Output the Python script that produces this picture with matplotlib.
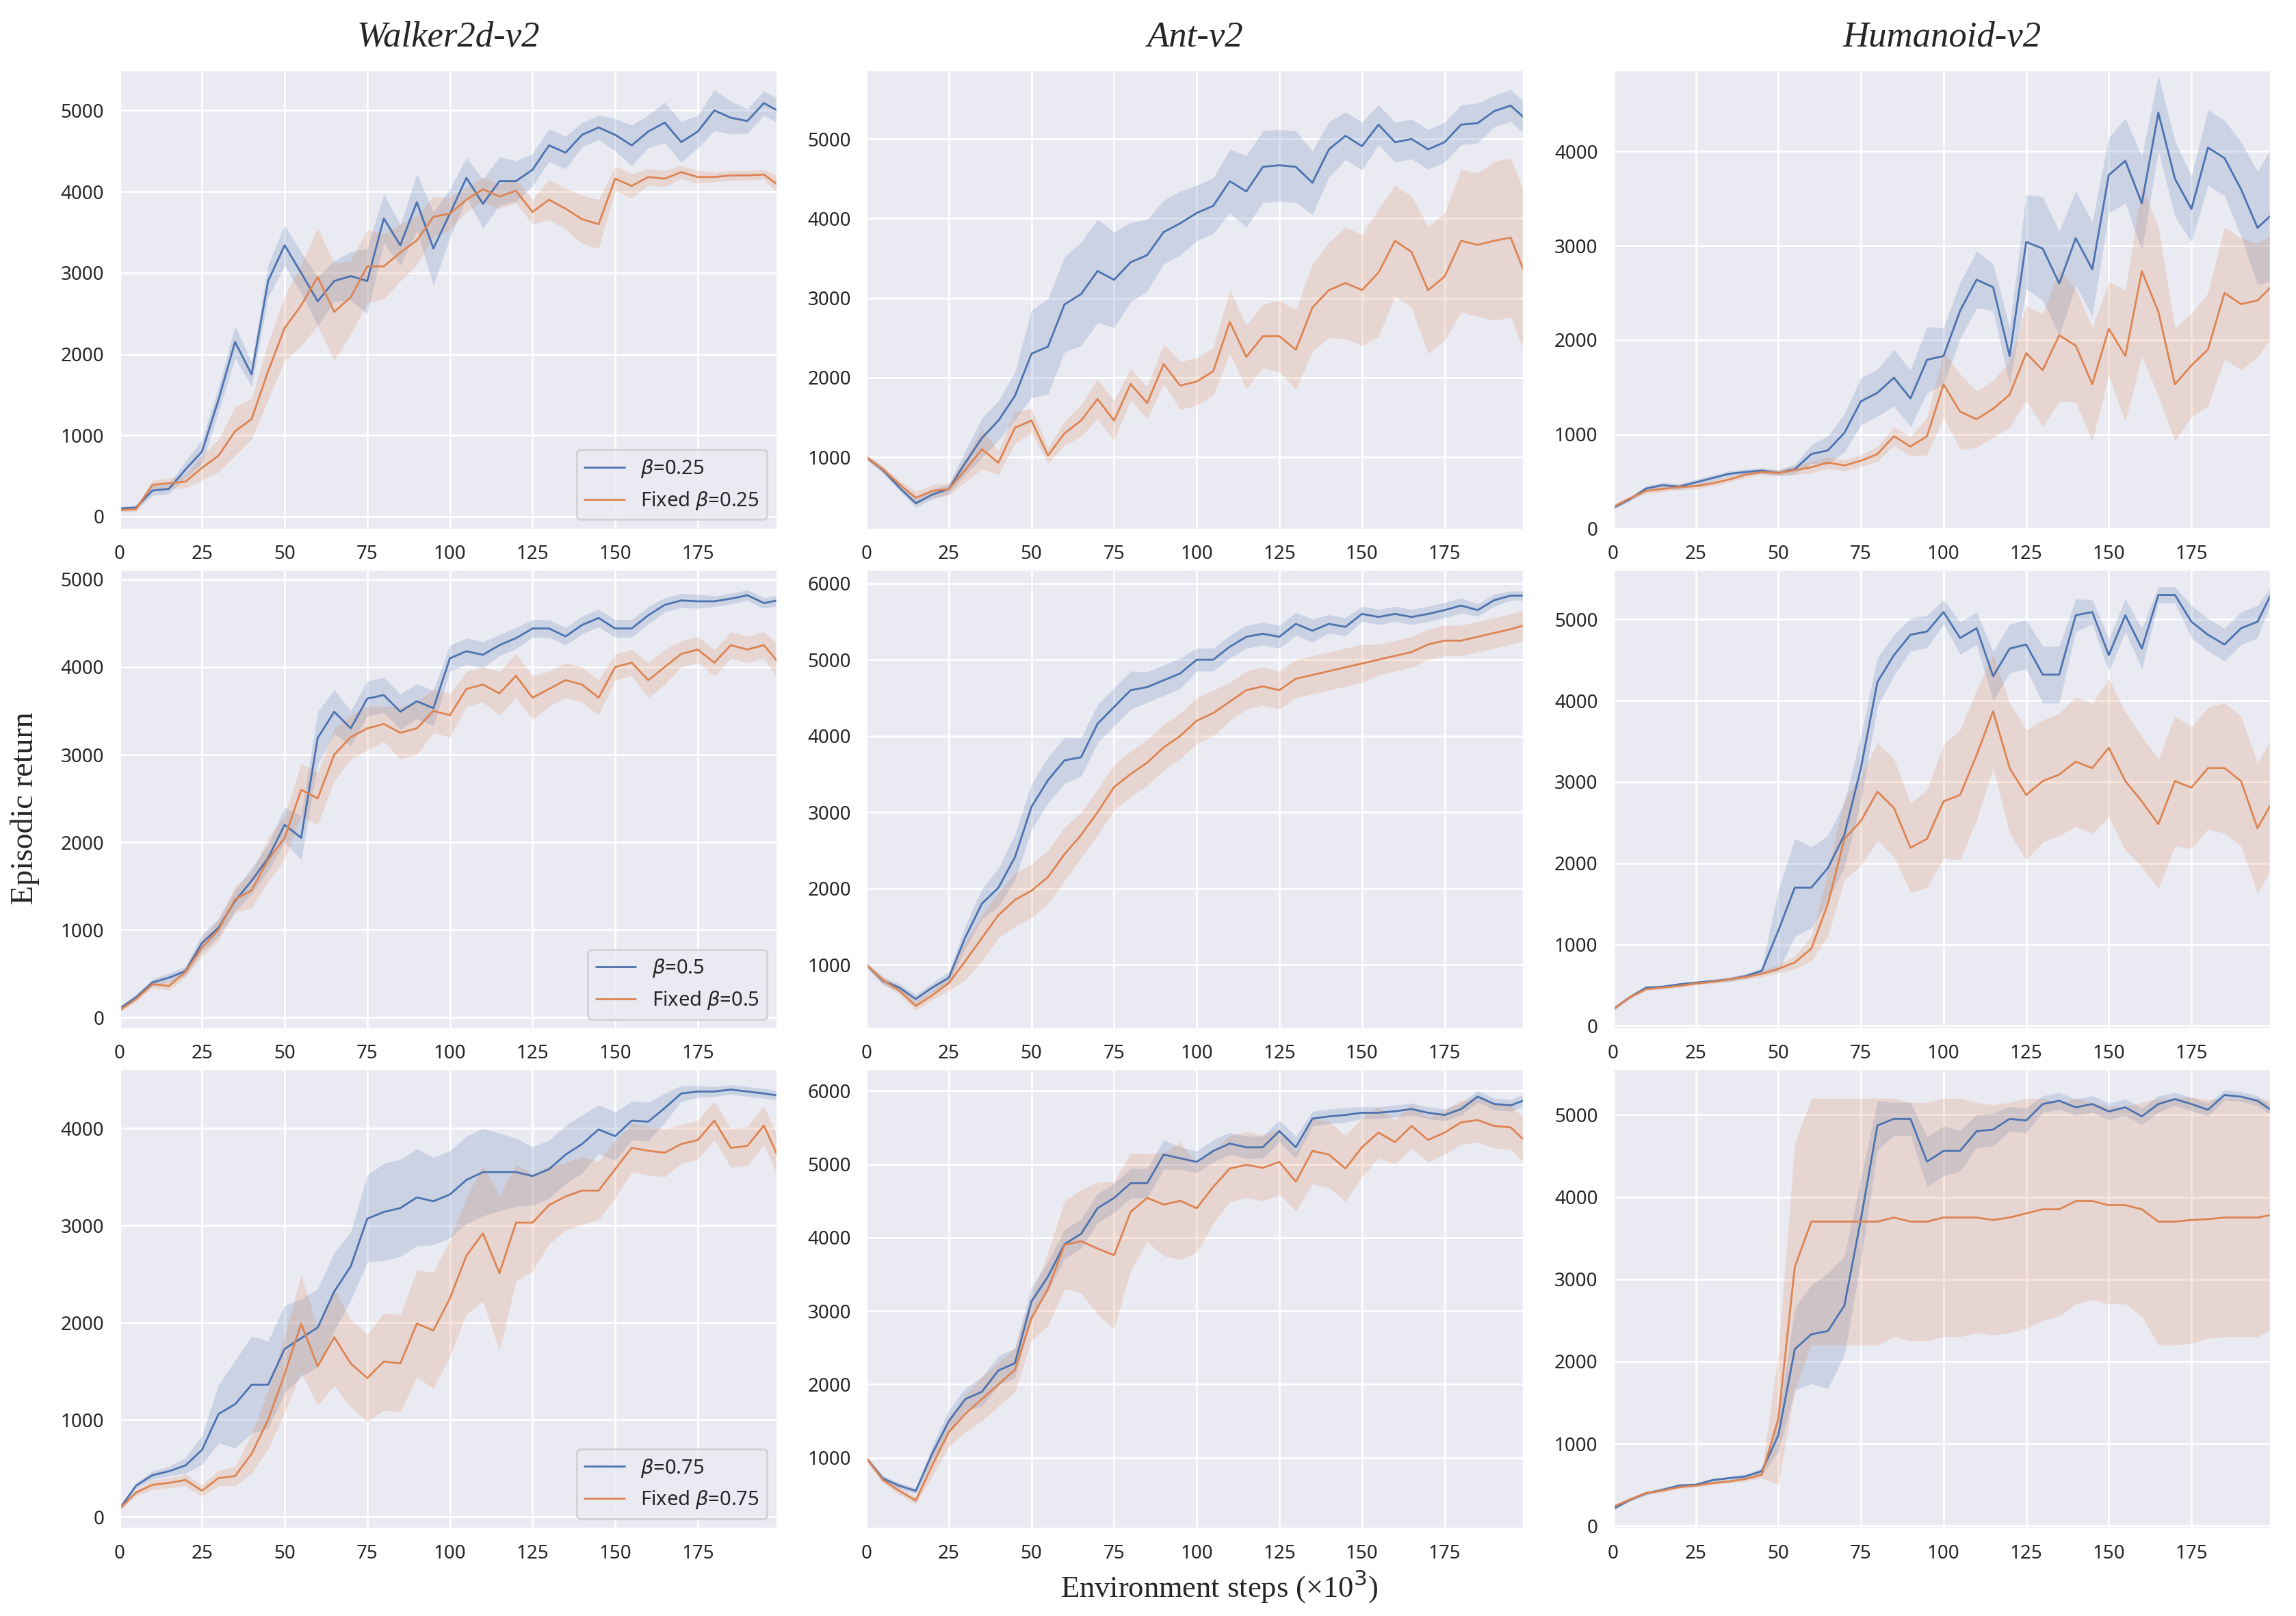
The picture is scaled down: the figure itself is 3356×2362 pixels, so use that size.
import numpy as np
import matplotlib
matplotlib.use("Agg")
import matplotlib.pyplot as plt
import seaborn as sns

sns.set_theme(style="darkgrid")
plt.rcParams['font.family'] = ['Noto Sans', 'DejaVu Sans']

### environment steps (x10^3)
steps = [0, 5, 10, 15, 20, 25, 30, 35, 40, 45, 50, 55, 60, 65, 70, 75, 80, 85, 90, 95,
         100, 105, 110, 115, 120, 125, 130, 135, 140, 145, 150, 155, 160, 165, 170, 175,
         180, 185, 190, 195, 199]

envs = ["Walker2d-v2", "Ant-v2", "Humanoid-v2"]
betas = ["0.25", "0.5", "0.75"]

### --- beta = 0.25 ---
walker_b25 = [100, 110, 320, 340, 580, 800, 1440, 2150, 1750, 2900, 3340, 3000, 2650, 2900, 2960, 2900, 3670, 3340, 3870, 3300,
              3730, 4170, 3850, 4130, 4130, 4270, 4570, 4480, 4700, 4790, 4700, 4570, 4740, 4850, 4610, 4740, 5000, 4910, 4870, 5090, 5000]
walker_b25_sd = [20, 30, 60, 60, 100, 150, 150, 200, 150, 200, 250, 250, 300, 250, 300, 400, 300, 250, 350, 450,
                 300, 250, 300, 300, 250, 200, 200, 200, 150, 150, 200, 250, 200, 250, 250, 200, 250, 200, 150, 150, 150]
walker_f25 = [80, 90, 390, 410, 430, 600, 750, 1050, 1200, 1790, 2320, 2600, 2950, 2520, 2700, 3080, 3080, 3250, 3400, 3690,
              3730, 3900, 4030, 3940, 4010, 3750, 3900, 3790, 3660, 3600, 4160, 4070, 4180, 4160, 4240, 4180, 4180, 4200, 4200, 4210, 4090]
walker_f25_sd = [20, 30, 60, 60, 80, 150, 200, 300, 250, 350, 400, 500, 600, 600, 450, 450, 400, 350, 300, 250,
                 200, 150, 150, 150, 150, 150, 250, 250, 300, 300, 150, 150, 100, 100, 80, 80, 60, 60, 60, 60, 100]

ant_b25 = [1000, 840, 620, 420, 530, 600, 930, 1240, 1460, 1770, 2300, 2390, 2920, 3050, 3340, 3230, 3450, 3540, 3830, 3940,
           4070, 4160, 4470, 4340, 4650, 4670, 4650, 4450, 4870, 5040, 4910, 5180, 4960, 5000, 4870, 4960, 5180, 5200, 5350, 5420, 5270]
ant_b25_sd = [30, 40, 40, 50, 60, 60, 150, 250, 250, 300, 550, 600, 600, 650, 650, 600, 500, 450, 400, 400,
              350, 350, 400, 450, 450, 450, 450, 400, 350, 300, 300, 250, 250, 250, 250, 250, 250, 250, 200, 200, 200]
ant_f25 = [1000, 850, 660, 490, 575, 600, 840, 1100, 930, 1370, 1460, 1020, 1300, 1460, 1730, 1460, 1920, 1680, 2170, 1900,
           1950, 2080, 2700, 2260, 2520, 2520, 2350, 2880, 3100, 3190, 3100, 3320, 3720, 3580, 3100, 3270, 3720, 3670, 3720, 3760, 3340]
ant_f25_sd = [30, 40, 50, 80, 80, 80, 150, 250, 150, 200, 150, 100, 150, 200, 250, 250, 200, 200, 250, 300,
              300, 300, 400, 400, 400, 450, 500, 550, 600, 700, 700, 800, 700, 700, 800, 800, 900, 900, 1000, 1000, 1000]

hum_b25 = [220, 310, 425, 460, 445, 490, 535, 580, 600, 615, 590, 630, 790, 830, 1015, 1350, 1440, 1600, 1380, 1790,
           1830, 2310, 2640, 2560, 1830, 3040, 2970, 2600, 3080, 2750, 3750, 3900, 3450, 4410, 3710, 3390, 4040, 3930, 3600, 3190, 3320]
hum_b25_sd = [20, 20, 30, 30, 30, 30, 30, 30, 30, 30, 30, 50, 100, 150, 200, 250, 250, 300, 300, 350,
              300, 300, 300, 250, 300, 500, 550, 550, 500, 500, 400, 450, 500, 400, 400, 350, 400, 400, 500, 600, 700]
hum_f25 = [230, 320, 400, 420, 440, 450, 480, 520, 570, 600, 590, 620, 650, 700, 670, 720, 790, 980, 870, 980,
           1530, 1240, 1160, 1270, 1420, 1860, 1680, 2050, 1940, 1530, 2120, 1830, 2730, 2300, 1530, 1730, 1900, 2500, 2380, 2420, 2560]
hum_f25_sd = [20, 20, 30, 30, 30, 30, 30, 30, 30, 30, 30, 50, 60, 60, 60, 60, 80, 100, 100, 200,
              350, 400, 300, 300, 350, 500, 600, 700, 600, 600, 500, 700, 900, 900, 600, 550, 600, 700, 700, 600, 550]

### --- beta = 0.5 ---
walker_b5 = [100, 230, 400, 455, 530, 850, 1025, 1330, 1560, 1820, 2200, 2050, 3190, 3490, 3300, 3640, 3680, 3490, 3610, 3530,
             4100, 4180, 4140, 4250, 4330, 4440, 4440, 4350, 4480, 4560, 4440, 4440, 4590, 4710, 4760, 4750, 4750, 4780, 4820, 4730, 4760]
walker_b5_sd = [20, 30, 40, 50, 50, 100, 100, 120, 150, 150, 200, 250, 300, 250, 200, 200, 200, 200, 200, 200,
                150, 150, 150, 120, 120, 100, 100, 100, 100, 100, 100, 100, 100, 80, 80, 80, 60, 60, 60, 60, 60]
walker_f5 = [80, 210, 380, 360, 520, 800, 1000, 1350, 1450, 1800, 2050, 2600, 2500, 3000, 3200, 3300, 3350, 3250, 3300, 3500,
             3450, 3750, 3800, 3700, 3900, 3650, 3750, 3850, 3800, 3650, 4000, 4050, 3850, 4000, 4150, 4200, 4050, 4250, 4200, 4250, 4070]
walker_f5_sd = [20, 30, 40, 50, 60, 100, 120, 150, 200, 250, 250, 300, 300, 300, 250, 250, 200, 300, 300, 250,
                250, 200, 200, 250, 250, 250, 200, 200, 200, 200, 150, 150, 200, 200, 150, 150, 150, 150, 150, 150, 200]

ant_b5 = [1000, 790, 700, 550, 700, 830, 1360, 1800, 2010, 2410, 3070, 3420, 3680, 3720, 4160, 4380, 4600, 4640, 4730, 4820,
          5000, 5000, 5170, 5300, 5340, 5300, 5470, 5380, 5470, 5430, 5600, 5560, 5600, 5560, 5600, 5650, 5710, 5650, 5780, 5840, 5840]
ant_b5_sd = [30, 50, 50, 60, 60, 80, 150, 200, 250, 300, 300, 300, 300, 250, 250, 250, 250, 200, 200, 200,
             150, 150, 150, 150, 150, 150, 150, 150, 120, 120, 100, 100, 100, 100, 100, 100, 100, 80, 80, 60, 60]
ant_f5 = [1000, 800, 660, 460, 600, 760, 1050, 1350, 1650, 1850, 1970, 2150, 2450, 2700, 3000, 3330, 3500, 3650, 3850, 4000,
          4200, 4300, 4450, 4600, 4650, 4600, 4750, 4800, 4850, 4900, 4950, 5000, 5050, 5100, 5200, 5250, 5250, 5300, 5350, 5400, 5450]
ant_f5_sd = [30, 50, 50, 60, 60, 100, 250, 300, 300, 350, 350, 350, 350, 300, 300, 300, 300, 300, 300, 300,
             300, 300, 250, 250, 250, 250, 250, 250, 250, 250, 250, 200, 200, 200, 200, 200, 200, 200, 200, 200, 200]

hum_b5 = [205, 350, 470, 480, 510, 530, 550, 570, 610, 675, 1170, 1700, 1700, 1940, 2350, 3170, 4230, 4560, 4810, 4850,
          5090, 4770, 4890, 4300, 4640, 4690, 4320, 4320, 5050, 5090, 4560, 5050, 4640, 5300, 5300, 4970, 4810, 4690, 4890, 4970, 5300]
hum_b5_sd = [20, 20, 20, 20, 20, 20, 20, 30, 30, 40, 500, 600, 500, 400, 400, 400, 300, 250, 200, 200,
             150, 200, 200, 300, 300, 300, 350, 350, 200, 150, 200, 200, 250, 100, 100, 200, 200, 200, 200, 200, 100]
hum_f5 = [200, 350, 450, 470, 490, 520, 540, 570, 600, 640, 700, 780, 950, 1500, 2300, 2520, 2880, 2680, 2190, 2300,
          2760, 2840, 3330, 3870, 3170, 2840, 3010, 3090, 3250, 3170, 3420, 3010, 2760, 2480, 3010, 2930, 3170, 3170, 3010, 2430, 2720]
hum_f5_sd = [20, 20, 20, 20, 20, 20, 20, 20, 30, 40, 50, 80, 150, 400, 500, 550, 600, 600, 550, 600,
             700, 800, 800, 700, 800, 800, 750, 750, 800, 800, 850, 850, 800, 800, 800, 750, 750, 800, 800, 800, 800]

### --- beta = 0.75 ---
walker_b75 = [80, 320, 430, 470, 530, 690, 1060, 1160, 1360, 1360, 1730, 1840, 1950, 2320, 2580, 3070, 3140, 3180, 3290, 3250,
              3320, 3470, 3550, 3550, 3550, 3510, 3580, 3730, 3840, 3990, 3920, 4080, 4070, 4210, 4360, 4380, 4380, 4400, 4380, 4360, 4340]
walker_b75_sd = [20, 30, 40, 50, 80, 150, 300, 450, 500, 450, 450, 400, 400, 400, 350, 450, 500, 500, 500, 450,
                 450, 450, 450, 400, 350, 300, 300, 300, 300, 250, 250, 200, 200, 150, 80, 60, 50, 50, 50, 50, 50]
walker_f75 = [80, 250, 330, 350, 380, 270, 400, 420, 650, 1000, 1470, 1990, 1550, 1850, 1580, 1430, 1600, 1580, 1990, 1920,
              2250, 2690, 2920, 2510, 3030, 3030, 3210, 3300, 3360, 3360, 3580, 3800, 3770, 3750, 3840, 3880, 4080, 3800, 3820, 4030, 3730]
walker_f75_sd = [20, 30, 50, 50, 60, 60, 80, 100, 200, 300, 400, 500, 400, 500, 450, 450, 500, 500, 550, 600,
                 600, 600, 700, 800, 600, 500, 400, 350, 350, 300, 300, 250, 250, 250, 200, 200, 200, 200, 200, 200, 200]

ant_b75 = [1000, 720, 620, 550, 1060, 1500, 1800, 1900, 2190, 2290, 3130, 3470, 3910, 4050, 4400, 4540, 4740, 4740, 5130, 5080,
           5030, 5180, 5280, 5230, 5230, 5450, 5230, 5620, 5650, 5670, 5700, 5700, 5720, 5750, 5700, 5670, 5750, 5920, 5820, 5800, 5870]
ant_b75_sd = [30, 40, 40, 40, 100, 150, 150, 200, 200, 200, 200, 200, 200, 200, 200, 200, 200, 200, 200, 150,
              150, 150, 150, 150, 150, 150, 150, 100, 100, 100, 80, 80, 80, 80, 80, 80, 80, 80, 80, 80, 80]
ant_f75 = [1000, 700, 550, 420, 900, 1350, 1600, 1800, 2000, 2200, 2900, 3300, 3900, 3950, 3850, 3760, 4350, 4540, 4450, 4500,
           4400, 4690, 4940, 4990, 4950, 5030, 4760, 5180, 5130, 4940, 5230, 5430, 5300, 5520, 5330, 5430, 5570, 5600, 5520, 5500, 5330]
ant_f75_sd = [30, 40, 50, 50, 150, 200, 250, 300, 300, 300, 300, 500, 600, 700, 900, 1000, 800, 600, 700, 800,
              600, 500, 450, 450, 450, 450, 400, 450, 450, 450, 400, 350, 300, 300, 300, 300, 300, 300, 300, 300, 300]

hum_b75 = [205, 315, 395, 440, 490, 500, 555, 580, 600, 665, 1100, 2150, 2330, 2370, 2680, 3730, 4870, 4950, 4950, 4430,
           4560, 4560, 4800, 4820, 4950, 4930, 5130, 5170, 5090, 5130, 5040, 5090, 4980, 5130, 5190, 5130, 5060, 5240, 5220, 5170, 5060]
hum_b75_sd = [20, 20, 20, 20, 20, 20, 20, 20, 30, 40, 200, 500, 600, 700, 600, 500, 300, 200, 200, 300,
              300, 250, 200, 200, 150, 150, 100, 100, 100, 100, 100, 100, 100, 100, 80, 80, 80, 60, 60, 60, 60]
hum_f75 = [230, 320, 400, 430, 470, 490, 520, 540, 570, 620, 1300, 3150, 3700, 3700, 3700, 3700, 3700, 3750, 3700, 3700,
           3750, 3750, 3750, 3720, 3750, 3800, 3850, 3850, 3950, 3950, 3900, 3900, 3850, 3700, 3700, 3720, 3730, 3750, 3750, 3750, 3780]
hum_f75_sd = [20, 20, 20, 20, 20, 20, 20, 20, 30, 40, 800, 1500, 1500, 1500, 1500, 1500, 1500, 1450, 1450, 1450,
              1450, 1450, 1400, 1400, 1400, 1400, 1350, 1300, 1250, 1200, 1200, 1200, 1300, 1500, 1500, 1500, 1450, 1450, 1450, 1450, 1400]

### rows = beta, cols = env; each cell: (adaptive mean, sd, fixed mean, sd)
grid = [
    [(walker_b25, walker_b25_sd, walker_f25, walker_f25_sd),
     (ant_b25, ant_b25_sd, ant_f25, ant_f25_sd),
     (hum_b25, hum_b25_sd, hum_f25, hum_f25_sd)],
    [(walker_b5, walker_b5_sd, walker_f5, walker_f5_sd),
     (ant_b5, ant_b5_sd, ant_f5, ant_f5_sd),
     (hum_b5, hum_b5_sd, hum_f5, hum_f5_sd)],
    [(walker_b75, walker_b75_sd, walker_f75, walker_f75_sd),
     (ant_b75, ant_b75_sd, ant_f75, ant_f75_sd),
     (hum_b75, hum_b75_sd, hum_f75, hum_f75_sd)],
]

ylims = [[(-160, 5504), (90, 5874), (-10, 4869)],
         [(-133, 5118), (155, 6188), (-41, 5618)],
         [(-122, 4615), (34, 6300), (-35, 5560)]]

blue = "#4C72B0"
orange = "#DD8452"

fig, axes = plt.subplots(3, 3, figsize=(16.78, 11.81), dpi=200)
plt.subplots_adjust(left=0.052, right=0.989, top=0.957, bottom=0.054, wspace=0.1355, hspace=0.086)

x = np.array(steps)
for r in range(3):
    for c in range(3):
        ax = axes[r][c]
        m1, s1, m2, s2 = [np.array(v, dtype=float) for v in grid[r][c]]
        ax.plot(x, m1, color=blue, lw=1.0, label=r"$\beta$=" + betas[r])
        ax.fill_between(x, m1 - s1, m1 + s1, color=blue, alpha=0.2, lw=0)
        ax.plot(x, m2, color=orange, lw=1.0, label=r"Fixed $\beta$=" + betas[r])
        ax.fill_between(x, m2 - s2, m2 + s2, color=orange, alpha=0.2, lw=0)
        ax.set_xlim(0, 199)
        ax.set_ylim(*ylims[r][c])
        ax.set_xticks([0, 25, 50, 75, 100, 125, 150, 175])
        ax.tick_params(labelsize=10, pad=2)
        if r == 0:
            ax.set_title(envs[c], family="Liberation Serif", style="italic", fontsize=19, pad=12)
        if c == 0:
            ax.legend(loc="lower right", fontsize=10.5)

fig.text(0.011, 0.5, "Episodic return", family="Liberation Serif", fontsize=16.5,
         rotation=90, va="center", ha="center")
fig.text(0.531, 0.018, "Environment steps (\u00d710$^3$)", family="Liberation Serif", fontsize=16,
         va="center", ha="center")

plt.savefig("out.png", dpi=200)
